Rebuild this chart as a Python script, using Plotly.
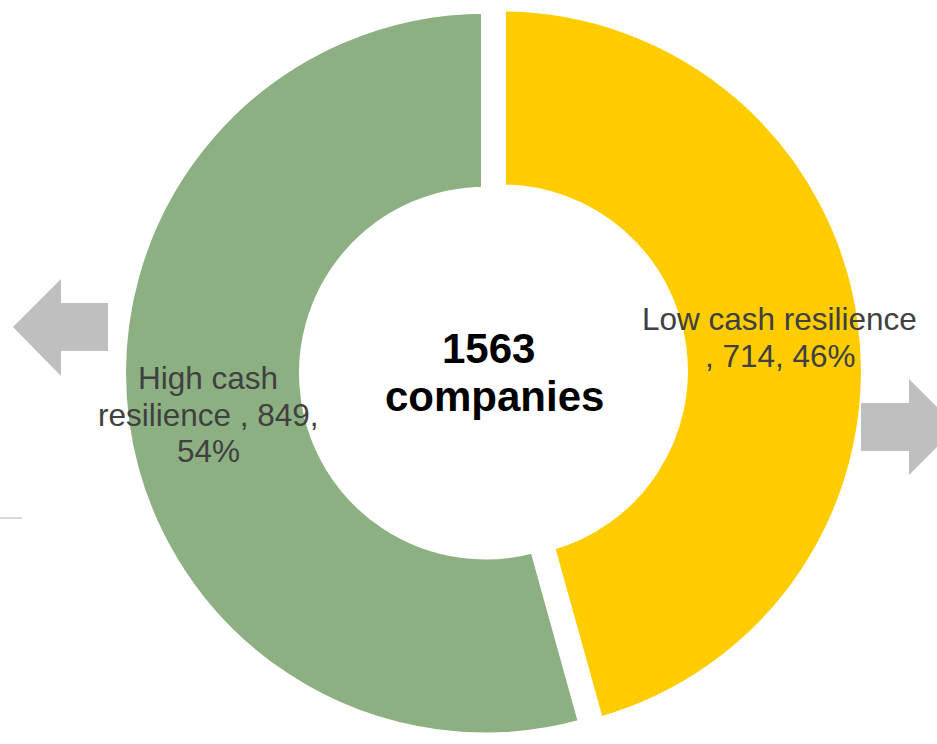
import plotly.graph_objects as go

# --- data -------------------------------------------------------------
categories = ["Low cash resilience", "High cash resilience"]
companies = [714, 849]
slice_colors = ["#FFCC00", "#8DB083"]

total = sum(companies)
percents = [round(v / total * 100) for v in companies]

# --- canvas -----------------------------------------------------------
W, H = 937, 744


def px(x):
    return x / W


def py(y):
    return 1 - y / H


fig = go.Figure()

fig.add_trace(
    go.Pie(
        labels=categories,
        values=companies,
        sort=False,
        direction="clockwise",
        rotation=0,
        hole=0.5,
        pull=[0.0222, 0.0222],
        marker=dict(colors=slice_colors, line=dict(color="white", width=9)),
        textinfo="none",
        hoverinfo="label+value+percent",
        showlegend=False,
        domain=dict(x=[0.0533, 1.0], y=[0.0, 1.0]),
    )
)

label_font = dict(family="Liberation Sans, Arial, sans-serif", size=31.5, color="#404040")
center_font = dict(family="Liberation Sans, Arial, sans-serif", size=42, color="#000000", weight="bold")

annotations = []

# slice label for the low-resilience group (two lines)
low_lines = [categories[0], f", {companies[0]}, {percents[0]}%"]
for text, (cx, cy) in zip(low_lines, [(779, 319), (780, 356)]):
    annotations.append(dict(text=text, x=px(cx), y=py(cy), xref="paper", yref="paper",
                            xanchor="center", yanchor="middle", showarrow=False, font=label_font))

# slice label for the high-resilience group (three lines)
hw = categories[1].split()
high_lines = [" ".join(hw[:2]), f"{hw[2]} , {companies[1]},", f"{percents[1]}%"]
for text, (cx, cy) in zip(high_lines, [(208, 378), (208, 415), (208, 451)]):
    annotations.append(dict(text=text, x=px(cx), y=py(cy), xref="paper", yref="paper",
                            xanchor="center", yanchor="middle", showarrow=False, font=label_font))

# total in the donut hole
for text, (cx, cy) in zip([f"{total} ", "companies"], [(494, 348), (494, 396)]):
    annotations.append(dict(text=text, x=px(cx), y=py(cy), xref="paper", yref="paper",
                            xanchor="center", yanchor="middle", showarrow=False, font=center_font))


def poly_path(points):
    return "M " + " L ".join(f"{px(x):.5f},{py(y):.5f}" for x, y in points) + " Z"


left_arrow = [(108, 303), (61, 303), (61, 279), (13, 327), (61, 376), (61, 351), (108, 351)]
right_arrow = [(861, 403), (909, 403), (909, 379), (957, 427), (909, 475), (909, 451), (861, 451)]

shapes = [
    dict(type="path", path=poly_path(left_arrow), xref="paper", yref="paper",
         fillcolor="#BFBFBF", line=dict(width=0), layer="above"),
    dict(type="path", path=poly_path(right_arrow), xref="paper", yref="paper",
         fillcolor="#BFBFBF", line=dict(width=0), layer="above"),
    dict(type="line", x0=px(0), x1=px(22), y0=py(518), y1=py(518), xref="paper", yref="paper",
         line=dict(color="#D9D9D9", width=2)),
]

fig.update_layout(
    width=W,
    height=H,
    margin=dict(l=0, r=0, t=0, b=0),
    paper_bgcolor="white",
    plot_bgcolor="white",
    annotations=annotations,
    shapes=shapes,
)

fig.write_html("out.html")
